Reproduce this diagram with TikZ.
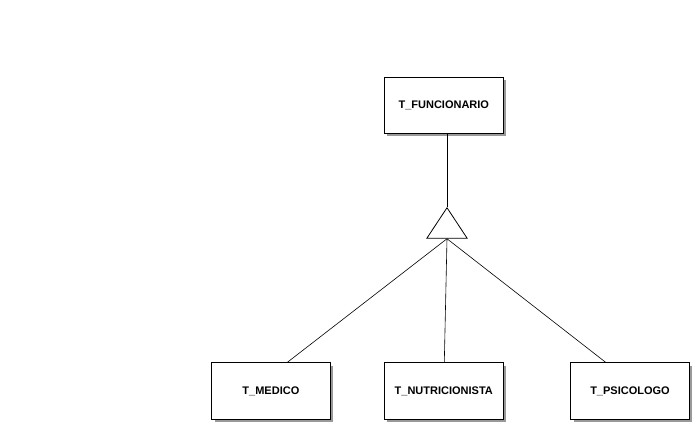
\documentclass[tikz,border=0pt]{standalone}
\usepackage{fontspec}
\setmainfont{Liberation Sans}
\usetikzlibrary{shapes.geometric}
\begin{document}
\begin{tikzpicture}[x=1pt,y=-1pt,
  entity/.style={draw=black, line width=0.8pt, fill=white, minimum width=118.5pt, minimum height=56.5pt, inner sep=0pt, font=\fontsize{11}{13}\selectfont\bfseries},
  shade/.style={fill=gray!80, draw=none},
  isa/.style={draw=black, line width=0.8pt, fill=white, isosceles triangle, shape border rotate=90, isosceles triangle stretches, minimum width=40.4pt, minimum height=30.6pt, inner sep=0pt},
  link/.style={line width=0.6pt}]
\useasboundingbox (0,0) rectangle (694,425);
% shadows
\fill[shade] (387,80) rectangle (506,136);
\fill[shade] (214.5,365.5) rectangle (333,422);
\fill[shade] (387,365.5) rectangle (506,422);
\fill[shade] (573.5,365.5) rectangle (692,422);
% entities
\node[entity] (fun) at (443.8,105.3) {T\_FUNCIONARIO};
\node[entity] (med) at (270.9,391) {T\_MEDICO};
\node[entity] (nut) at (443.8,391) {T\_NUTRICIONISTA};
\node[entity] (psi) at (630,391) {T\_PSICOLOGO};
% isa triangle
\node[isa, anchor=apex] (tri) at (447,206.7) {};
% connectors
\draw[link] (fun.south -| tri.apex) -- (tri.apex);
\draw[link] (tri.lower side) -- ([xshift=16.4pt]med.north);
\draw[link] (tri.lower side) -- ([xshift=0.5pt]nut.north);
\draw[link] (tri.lower side) -- ([xshift=-24.3pt]psi.north);
\end{tikzpicture}
\end{document}
